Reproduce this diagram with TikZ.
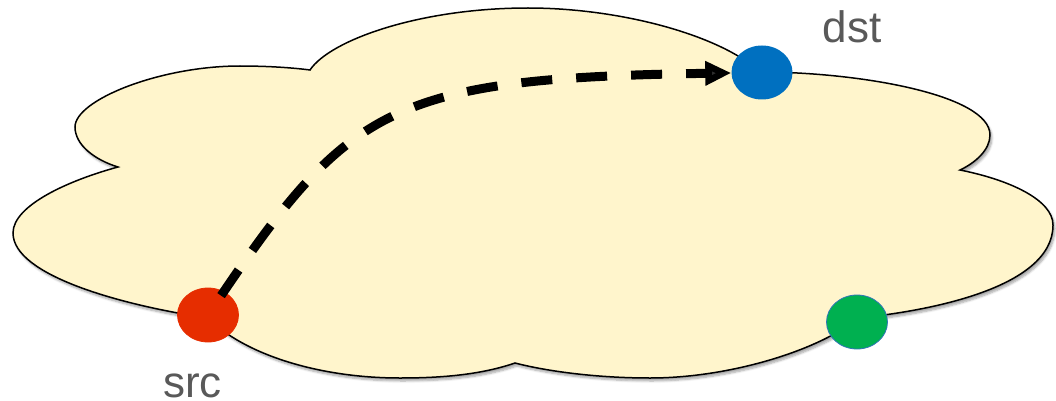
\documentclass[tikz,border=0pt]{standalone}
\usepackage{fontspec}
\setmainfont{Liberation Sans}
\usetikzlibrary{arrows.meta,shapes.geometric,shadows.blur}
\definecolor{cloudfill}{RGB}{255,245,204}
\definecolor{srcred}{RGB}{230,45,0}
\definecolor{dstblue}{RGB}{0,112,192}
\definecolor{othgreen}{RGB}{0,176,80}
\definecolor{greenline}{RGB}{46,117,182}
\definecolor{labelgray}{RGB}{89,89,89}
\tikzset{
  cloudshape/.style={draw=black, line width=1.5pt, fill=cloudfill,
    blur shadow={shadow xshift=2pt, shadow yshift=-3pt, shadow blur steps=6, shadow opacity=35}},
  dot/.style={ellipse, minimum width=61pt, minimum height=54pt, inner sep=0pt},
  lbl/.style={text=labelgray, font=\fontsize{44}{48}\selectfont, inner sep=0pt, anchor=base},
  route/.style={line width=9pt, dash pattern=on 31pt off 24pt, shorten <=-5pt,
    -{Triangle[length=26pt,width=23pt]}}
}
\begin{document}
\begin{tikzpicture}[x=1pt,y=-1pt]
\useasboundingbox (0,0) rectangle (1056,401);
% cloud
\path[cloudshape]
  (118,167) .. controls (95,160) and (75,145) .. (75,127)
  .. controls (75,100) and (160,66) .. (240,66)
  .. controls (270,66) and (295,68) .. (310,70)
  .. controls (330,40) and (420,8) .. (528,8)
  .. controls (620,8) and (720,35) .. (760,72)
  .. controls (860,72) and (990,95) .. (990,135)
  .. controls (990,150) and (975,163) .. (960,170)
  .. controls (1010,180) and (1053,200) .. (1053,225)
  .. controls (1053,290) and (920,312) .. (858,318)
  .. controls (820,350) and (730,378) .. (650,378)
  .. controls (600,378) and (550,372) .. (515,363)
  .. controls (480,375) and (440,378) .. (400,378)
  .. controls (320,378) and (245,355) .. (208,318)
  .. controls (120,305) and (13,275) .. (13,233)
  .. controls (13,205) and (70,180) .. (118,167) -- cycle;
% dots
\node[dot, fill=srcred, draw=srcred, line width=0.8pt] (src) at (208,315) {};
\node[dot, fill=dstblue] (dst) at (762,72.5) {};
\node[dot, fill=othgreen, draw=greenline, line width=0.8pt] (oth) at (857,322) {};
% labels
\node[lbl] (srclbl) at (192.5,397) {src};
\node[lbl] (dstlbl) at (852,43) {dst};
% route
\coordinate (c1) at (350,105);
\coordinate (c2) at (395,78);
\draw[route] (src) .. controls (c1) and (c2) .. (dst);
\end{tikzpicture}
\end{document}
